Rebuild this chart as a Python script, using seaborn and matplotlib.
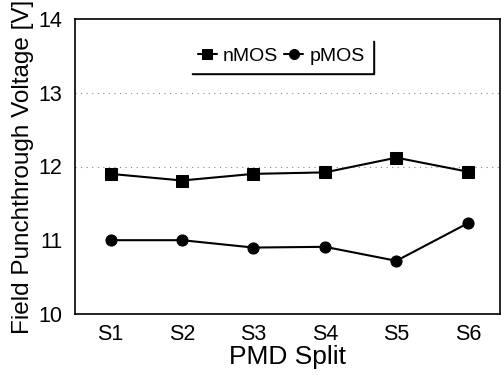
import matplotlib
matplotlib.use("Agg")
import matplotlib.pyplot as plt
import seaborn as sns
import pandas as pd

splits = ["S1", "S2", "S3", "S4", "S5", "S6"]
nmos = [11.90, 11.81, 11.90, 11.92, 12.12, 11.93]
pmos = [11.00, 11.00, 10.90, 10.91, 10.72, 11.23]
series_names = ["nMOS", "pMOS"]
y_ticks = [10, 11, 12, 13, 14]

sns.set_style("white")
plt.rcParams["font.family"] = ["Liberation Sans", "DejaVu Sans"]
plt.rcParams["text.color"] = "black"
plt.rcParams["axes.labelcolor"] = "black"

df = pd.DataFrame({
    "split": splits * 2,
    "x": list(range(len(splits))) * 2,
    "value": nmos + pmos,
    "series": [series_names[0]] * len(splits) + [series_names[1]] * len(splits),
})

fig = plt.figure(figsize=(5.02, 3.75), dpi=100)
ax = fig.add_axes([0.149, 0.163, 0.847, 0.786])

sns.lineplot(data=df, x="x", y="value", hue="series", style="series",
             markers={"nMOS": "s", "pMOS": "o"}, dashes=False,
             palette={"nMOS": "black", "pMOS": "black"},
             markersize=8, linewidth=1.5, markeredgecolor="black", ax=ax)

ax.set_xlim(-0.5, 5.45)
ax.set_ylim(10, 14)
ax.set_yticks(y_ticks)
ax.set_xticks(range(len(splits)))
ax.set_xticklabels(splits)
ax.tick_params(axis="both", labelsize=15.5, direction="out", length=4, width=1, colors="black")
ax.tick_params(axis="x", pad=3)
ax.tick_params(axis="y", pad=5)
for s in ax.spines.values():
    s.set_color("black")
    s.set_linewidth(1.2)
for yv in [12, 13]:
    ax.axhline(yv, color="#888888", linestyle=(0, (1, 4)), linewidth=0.8, zorder=0)

ax.set_xlabel("PMD Split", fontsize=19, labelpad=0, color="black")
ax.set_ylabel("Field Punchthrough Voltage [V]", fontsize=17.5, labelpad=3, color="black")

leg = ax.legend(loc="upper center", bbox_to_anchor=(0.485, 0.965), ncol=2,
                fontsize=14, frameon=True, handlelength=1.0, handletextpad=0.3,
                columnspacing=0.3, borderpad=0.4, fancybox=False, markerscale=0.9,
                shadow={"ox": 1.5, "oy": -1.5, "color": "black", "alpha": 1.0})
leg.get_frame().set_edgecolor("white")
leg.get_frame().set_facecolor("white")
leg.get_frame().set_alpha(1.0)

fig.savefig("out.png", dpi=100)
